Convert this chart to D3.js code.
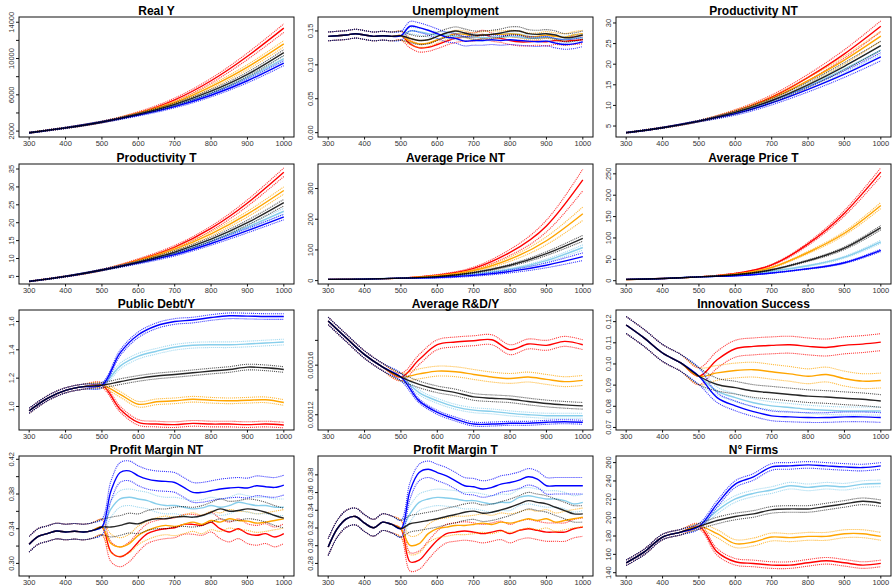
<!DOCTYPE html>
<html>
<head>
<meta charset="utf-8">
<script src="https://cdn.jsdelivr.net/npm/d3@7"></script>
<style>
  body { margin: 0; background: #fff; }
  svg text { font-family: "Liberation Sans", Arial, sans-serif; }
</style>
</head>
<body>
<script>
// scenario order: red, orange, black, lightblue, blue
var scenarioColors = ["#ff0000", "#ffa500", "#000000", "#87ceeb", "#0000ff"];
var drawOrder = [0, 1, 3, 4, 2];

// time grids
var t100 = [300, 400, 500, 600, 700, 800, 900, 1000];
var t50 = [300, 350, 400, 450, 500, 550, 600, 650, 700, 750, 800, 850, 900, 950, 1000];
var t25 = [300, 325, 350, 375, 400, 425, 450, 475, 500, 525, 550, 575, 600, 625, 650, 675, 700,
           725, 750, 775, 800, 825, 850, 875, 900, 925, 950, 975, 1000];
var xTicks = [300, 400, 500, 600, 700, 800, 900, 1000];

// Real Y
var realYBase = [1820, 2360, 3010];
var realYPost = [
  [4000, 5450, 7550, 10250, 13350],
  [3950, 5150, 6900, 9050, 11620],
  [3870, 4950, 6400, 8250, 10650],
  [3820, 4800, 6150, 7900, 10000],
  [3780, 4700, 5950, 7550, 9500]];
var realYBand = [0.035, 0.03, 0.03, 0.03, 0.03];

// Unemployment
var unempBase = [0.142, 0.143, 0.144, 0.146, 0.144, 0.142, 0.143, 0.142, 0.143];
var unempPost = [
  [0.131, 0.125, 0.126, 0.130, 0.135, 0.139, 0.141, 0.141, 0.145, 0.141, 0.139, 0.136, 0.134, 0.134, 0.135, 0.134, 0.136, 0.135, 0.136, 0.137],
  [0.135, 0.131, 0.132, 0.137, 0.142, 0.146, 0.145, 0.142, 0.144, 0.145, 0.145, 0.146, 0.145, 0.142, 0.142, 0.144, 0.142, 0.141, 0.144, 0.146],
  [0.139, 0.136, 0.137, 0.142, 0.147, 0.150, 0.147, 0.144, 0.144, 0.145, 0.147, 0.150, 0.150, 0.146, 0.145, 0.146, 0.144, 0.140, 0.141, 0.144],
  [0.150, 0.149, 0.146, 0.144, 0.144, 0.142, 0.141, 0.141, 0.140, 0.141, 0.141, 0.142, 0.141, 0.139, 0.140, 0.141, 0.139, 0.137, 0.139, 0.140],
  [0.157, 0.155, 0.151, 0.146, 0.141, 0.139, 0.135, 0.136, 0.136, 0.137, 0.136, 0.137, 0.136, 0.135, 0.134, 0.135, 0.132, 0.130, 0.131, 0.134]];
var unempBand = [0.006, 0.005, 0.006, 0.005, 0.007];

// Productivity NT
var prodNTBase = [3.39, 4.6, 6.2];
var prodNTPost = [
  [8.6, 12.0, 16.8, 22.5, 29.2],
  [8.5, 11.7, 16.0, 21.0, 26.8],
  [8.3, 11.2, 15.0, 19.5, 24.5],
  [8.2, 11.0, 14.6, 18.8, 23.4],
  [8.0, 10.6, 13.9, 17.6, 21.8]];
var prodNTBand = [0.045, 0.045, 0.045, 0.045, 0.045];

// Productivity T
var prodTBase = [3.6, 5.0, 6.8];
var prodTPost = [
  [9.6, 13.2, 18.4, 25.5, 34.1],
  [9.4, 12.6, 16.9, 22.4, 29.0],
  [9.0, 11.8, 15.4, 20.0, 25.6],
  [8.9, 11.4, 14.8, 18.8, 23.2],
  [8.8, 11.1, 14.2, 17.8, 21.6]];
var prodTBand = [0.035, 0.035, 0.035, 0.035, 0.035];

// Average Price NT
var priceNTBase = [4, 5, 8];
var priceNTPost = [
  [18, 40, 92, 178, 328],
  [16, 33, 70, 130, 218],
  [13, 26, 50, 88, 138],
  [11, 21, 37, 65, 108],
  [10, 17, 30, 50, 78]];
var priceNTBand = [0.107, 0.1, 0.07, 0.08, 0.16];

// Average Price T
var priceTBase = [3, 5, 9];
var priceTPost = [
  [17, 37, 86, 158, 254],
  [15.5, 31, 66, 111, 176],
  [14, 25.5, 47, 76, 124],
  [12.4, 22, 35, 55, 91],
  [11.6, 18, 28, 42, 71]];
var priceTBand = [0.04, 0.04, 0.04, 0.04, 0.04];

// Public Debt/Y
var debtBase = [0.970, 1.058, 1.114, 1.140, 1.150];
var debtPost = [
  [0.981, 0.888, 0.876, 0.872, 0.881, 0.876, 0.876, 0.872, 0.876, 0.869],
  [1.086, 1.016, 1.033, 1.040, 1.051, 1.044, 1.040, 1.044, 1.047, 1.028],
  [1.175, 1.198, 1.215, 1.226, 1.238, 1.250, 1.261, 1.278, 1.273, 1.261],
  [1.285, 1.355, 1.390, 1.418, 1.432, 1.436, 1.436, 1.441, 1.448, 1.455],
  [1.378, 1.506, 1.570, 1.600, 1.610, 1.628, 1.640, 1.638, 1.635, 1.635]];
var debtBand = [0.02, 0.02, 0.02, 0.02, 0.02];

// Average R&D/Y
var rdBase = [1.957e-4, 1.819e-4, 1.685e-4, 1.584e-4, 1.504e-4];
var rdPost = [
  [1.645e-4, 1.765e-4, 1.787e-4, 1.797e-4, 1.805e-4, 1.725e-4, 1.771e-4, 1.760e-4, 1.792e-4, 1.765e-4],
  [1.530e-4, 1.552e-4, 1.547e-4, 1.525e-4, 1.504e-4, 1.493e-4, 1.504e-4, 1.485e-4, 1.467e-4, 1.477e-4],
  [1.445e-4, 1.405e-4, 1.379e-4, 1.344e-4, 1.333e-4, 1.325e-4, 1.307e-4, 1.291e-4, 1.280e-4, 1.272e-4],
  [1.379e-4, 1.312e-4, 1.264e-4, 1.237e-4, 1.227e-4, 1.211e-4, 1.200e-4, 1.192e-4, 1.192e-4, 1.192e-4],
  [1.312e-4, 1.219e-4, 1.165e-4, 1.125e-4, 1.125e-4, 1.131e-4, 1.131e-4, 1.139e-4, 1.144e-4, 1.139e-4]];
var rdBand = [4e-6, 4e-6, 2.7e-6, 2e-6, 1.6e-6];

// Innovation Success
var innovBase = [0.1184, 0.1122, 0.1052, 0.1005, 0.0942];
var innovPost = [
  [0.1020, 0.1072, 0.1083, 0.1088, 0.1091, 0.1083, 0.1078, 0.1088, 0.1094, 0.1103],
  [0.0958, 0.0969, 0.0973, 0.0963, 0.0953, 0.0942, 0.0950, 0.0931, 0.0919, 0.0922],
  [0.0903, 0.0888, 0.0872, 0.0864, 0.0856, 0.0848, 0.0844, 0.0838, 0.0833, 0.0825],
  [0.0872, 0.0841, 0.0817, 0.0802, 0.0794, 0.0786, 0.0781, 0.0778, 0.0778, 0.0778],
  [0.0841, 0.0802, 0.0775, 0.0755, 0.0750, 0.0747, 0.0747, 0.0750, 0.0750, 0.0747]];
var innovBand = [0.004, 0.0035, 0.003, 0.0019, 0.0023];

// Profit Margin NT
var pmNTBase = [0.3221, 0.3312, 0.3343, 0.3373, 0.3362, 0.3370, 0.3362, 0.3381, 0.3419];
var pmNTPost = [
  [0.3133, 0.3076, 0.3133, 0.3248, 0.3343, 0.3381, 0.3400, 0.3411, 0.3450, 0.3450, 0.3438, 0.3476, 0.3400, 0.3362, 0.3400, 0.3343, 0.3324, 0.3343, 0.3305, 0.3343],
  [0.3229, 0.3190, 0.3229, 0.3324, 0.3381, 0.3419, 0.3438, 0.3427, 0.3450, 0.3476, 0.3450, 0.3495, 0.3476, 0.3514, 0.3495, 0.3488, 0.3465, 0.3476, 0.3495, 0.3514],
  [0.3419, 0.3438, 0.3465, 0.3457, 0.3495, 0.3514, 0.3514, 0.3533, 0.3541, 0.3533, 0.3552, 0.3590, 0.3629, 0.3602, 0.3610, 0.3629, 0.3617, 0.3590, 0.3552, 0.3522],
  [0.3629, 0.3743, 0.3762, 0.3743, 0.3724, 0.3686, 0.3667, 0.3667, 0.3648, 0.3629, 0.3640, 0.3667, 0.3648, 0.3667, 0.3705, 0.3686, 0.3667, 0.3667, 0.3648, 0.3648],
  [0.3838, 0.4048, 0.4067, 0.4010, 0.3971, 0.3952, 0.3945, 0.3933, 0.3876, 0.3819, 0.3819, 0.3838, 0.3857, 0.3869, 0.3876, 0.3869, 0.3895, 0.3884, 0.3876, 0.3903]];
var pmNTBand = [0.0114, 0.0107, 0.0114, 0.0095, 0.0114];

// Profit Margin T
var pmTBase = [0.2985, 0.3192, 0.3304, 0.3330, 0.3255, 0.3203, 0.3266, 0.3240, 0.3192];
var pmTPost = [
  [0.2819, 0.2837, 0.2949, 0.3061, 0.3136, 0.3154, 0.3166, 0.3154, 0.3136, 0.3154, 0.3173, 0.3136, 0.3173, 0.3192, 0.3173, 0.3154, 0.3154, 0.3154, 0.3192, 0.3210],
  [0.3005, 0.3024, 0.3136, 0.3192, 0.3210, 0.3229, 0.3229, 0.3240, 0.3255, 0.3240, 0.3266, 0.3255, 0.3278, 0.3304, 0.3285, 0.3304, 0.3266, 0.3285, 0.3304, 0.3322],
  [0.3248, 0.3266, 0.3285, 0.3304, 0.3330, 0.3352, 0.3378, 0.3390, 0.3367, 0.3378, 0.3404, 0.3434, 0.3472, 0.3509, 0.3490, 0.3472, 0.3434, 0.3397, 0.3360, 0.3360],
  [0.3360, 0.3490, 0.3528, 0.3546, 0.3539, 0.3528, 0.3509, 0.3509, 0.3490, 0.3472, 0.3490, 0.3490, 0.3546, 0.3565, 0.3546, 0.3528, 0.3528, 0.3509, 0.3472, 0.3490],
  [0.3621, 0.3826, 0.3863, 0.3826, 0.3789, 0.3733, 0.3677, 0.3666, 0.3640, 0.3658, 0.3696, 0.3714, 0.3740, 0.3778, 0.3751, 0.3677, 0.3677, 0.3677, 0.3677, 0.3677]];
var pmTBand = [0.0104, 0.0104, 0.0093, 0.0093, 0.0093];

// N° Firms
var firmsBase = [150.8, 162.7, 178.9, 184.3, 190.5];
var firmsPost = [
  [162.7, 151.9, 150.1, 148.3, 148.3, 150.8, 153.0, 150.8, 148.3, 150.1],
  [182.5, 171.7, 173.5, 178.9, 178.2, 179.6, 179.6, 182.5, 182.5, 179.6],
  [196.9, 201.3, 204.1, 208.5, 209.5, 209.5, 212.1, 215.0, 217.8, 215.7],
  [207.7, 220.4, 226.5, 230.1, 234.8, 233.0, 234.8, 233.7, 236.6, 237.3],
  [215.0, 236.6, 244.5, 255.3, 256.4, 257.5, 256.4, 255.3, 254.6, 256.4]];
var firmsBand = [3.6, 4.3, 3.6, 3.6, 3.6];

// panel table
var panels = [
  {title: "Real Y", t: t100, base: realYBase, post: realYPost, band: realYBand, baseBand: 0.03, rel: true,
   domain: [1351, 14577], ticks: [2000, 4000, 6000, 8000, 10000, 12000, 14000],
   labels: ["2000", "", "6000", "", "10000", "", "14000"]},
  {title: "Unemployment", t: t25, base: unempBase, post: unempPost, band: unempBand, baseBand: 0.0065, rel: false,
   domain: [-0.0064, 0.1706], ticks: [0, 0.05, 0.10, 0.15], labels: ["0.00", "0.05", "0.10", "0.15"]},
  {title: "Productivity NT", t: t100, base: prodNTBase, post: prodNTPost, band: prodNTBand, baseBand: 0.03, rel: true,
   domain: [2.34, 31.45], ticks: [5, 10, 15, 20, 25, 30], labels: ["5", "10", "15", "20", "25", "30"]},
  {title: "Productivity T", t: t100, base: prodTBase, post: prodTPost, band: prodTBand, baseBand: 0.03, rel: true,
   domain: [2.88, 36.4], ticks: [5, 10, 15, 20, 25, 30, 35], labels: ["5", "10", "15", "20", "25", "30", "35"]},
  {title: "Average Price NT", t: t100, base: priceNTBase, post: priceNTPost, band: priceNTBand, baseBand: 0.05, rel: true,
   domain: [-11, 380], ticks: [0, 100, 200, 300], labels: ["0", "100", "200", "300"]},
  {title: "Average Price T", t: t100, base: priceTBase, post: priceTPost, band: priceTBand, baseBand: 0.04, rel: true,
   domain: [-7.7, 273], ticks: [0, 50, 100, 150, 200, 250], labels: ["0", "50", "100", "150", "200", "250"]},
  {title: "Public Debt/Y", t: t50, base: debtBase, post: debtPost, band: debtBand, baseBand: 0.018, rel: false,
   domain: [0.834, 1.681], ticks: [1.0, 1.2, 1.4, 1.6], labels: ["1.0", "1.2", "1.4", "1.6"]},
  {title: "Average R&D/Y", t: t50, base: rdBase, post: rdPost, band: rdBand, baseBand: 3e-6, rel: false,
   domain: [1.077e-4, 2.045e-4], ticks: [1.2e-4, 1.4e-4, 1.6e-4, 1.8e-4], labels: ["0.00012", "", "0.00016", ""]},
  {title: "Innovation Success", t: t50, base: innovBase, post: innovPost, band: innovBand, baseBand: 0.004, rel: false,
   domain: [0.0688, 0.1255], ticks: [0.07, 0.08, 0.09, 0.10, 0.11, 0.12], labels: ["0.07", "0.08", "0.09", "0.10", "0.11", "0.12"]},
  {title: "Profit Margin NT", t: t25, base: pmNTBase, post: pmNTPost, band: pmNTBand, baseBand: 0.009, rel: false,
   domain: [0.2855, 0.4238], ticks: [0.30, 0.32, 0.34, 0.36, 0.38, 0.40, 0.42], labels: ["0.30", "", "0.34", "", "0.38", "", "0.42"]},
  {title: "Profit Margin T", t: t25, base: pmTBase, post: pmTPost, band: pmTBand, baseBand: 0.0095, rel: false,
   domain: [0.2658, 0.4013], ticks: [0.28, 0.30, 0.32, 0.34, 0.36, 0.38], labels: ["0.28", "0.30", "0.32", "0.34", "0.36", "0.38"]},
  {title: "N\u00b0 Firms", t: t50, base: firmsBase, post: firmsPost, band: firmsBand, baseBand: 3, rel: false,
   domain: [136.4, 267.2], ticks: [140, 160, 180, 200, 220, 240, 260], labels: ["140", "160", "180", "200", "220", "240", "260"]}
];

var colX = [19, 318, 616], rowY = [17, 164, 310, 456];
var boxW = 275, boxH = 120;

var svg = d3.select("body").append("svg")
  .attr("width", 892)
  .attr("height", 587);

panels.forEach(function(p, k) {
  var g = svg.append("g")
    .attr("transform", "translate(" + colX[k % 3] + "," + rowY[Math.floor(k / 3)] + ")");

  var x = d3.scaleLinear().domain([272, 1028]).range([0, boxW]);
  var y = d3.scaleLinear().domain(p.domain).range([boxH, 0]);

  g.append("clipPath").attr("id", "clip" + k)
    .append("rect").attr("width", boxW).attr("height", boxH);

  var plot = g.append("g").attr("clip-path", "url(#clip" + k + ")");

  // sparse smooth panels get a natural spline, wiggly ones catmull-rom
  var line = d3.line()
    .x(function(d) { return x(d.t); })
    .y(function(d) { return y(d.v); })
    .curve(p.t === t100 ? d3.curveNatural : d3.curveCatmullRom);

  //building each scenario: shared base + its own path after 500
  drawOrder.forEach(function(i) {
    var vals = p.base.concat(p.post[i]);
    var pts = vals.map(function(v, j) {
      var w = j < p.base.length ? p.baseBand : p.band[i];
      var h = p.rel ? v * w : w;
      return {t: p.t[j], v: v, h: h};
    });
    var up = pts.map(function(d) { return {t: d.t, v: d.v + d.h}; });
    var lo = pts.map(function(d) { return {t: d.t, v: d.v - d.h}; });
    var op = i === 2 ? 0.85 : 1;

    [up, lo].forEach(function(b) {
      plot.append("path")
        .attr("d", line(b))
        .attr("fill", "none")
        .attr("stroke", scenarioColors[i])
        .attr("stroke-width", 1.1)
        .attr("stroke-dasharray", "1.1,0.9")
        .attr("opacity", 0.75 * op);
    });

    plot.append("path")
      .attr("d", line(pts))
      .attr("fill", "none")
      .attr("stroke", scenarioColors[i])
      .attr("stroke-width", 1.4)
      .attr("opacity", op);
  });

  //box
  g.append("rect")
    .attr("width", boxW)
    .attr("height", boxH)
    .attr("fill", "none")
    .attr("stroke", "#111")
    .attr("stroke-width", 1);

  //x axis
  g.selectAll("line.xt").data(xTicks).enter().append("line")
    .attr("x1", function(d) { return x(d); })
    .attr("x2", function(d) { return x(d); })
    .attr("y1", boxH).attr("y2", boxH + 2.5)
    .attr("stroke", "#111");
  g.selectAll("text.xl").data(xTicks).enter().append("text")
    .attr("x", function(d) { return x(d); })
    .attr("y", boxH + 8.5)
    .attr("text-anchor", "middle")
    .style("font-size", "7.5px")
    .attr("fill", "#333")
    .text(function(d) { return d; });

  //y axis, labels rotated like R
  g.selectAll("line.yt").data(p.ticks).enter().append("line")
    .attr("x1", -3).attr("x2", 0)
    .attr("y1", function(d) { return y(d); })
    .attr("y2", function(d) { return y(d); })
    .attr("stroke", "#111");
  g.selectAll("text.yl").data(p.ticks).enter().append("text")
    .attr("transform", function(d) { return "translate(-5," + y(d) + ") rotate(-90)"; })
    .attr("text-anchor", "middle")
    .style("font-size", "7.5px")
    .attr("fill", "#333")
    .text(function(d, i) { return p.labels[i]; });

  g.append("text")
    .attr("x", boxW / 2)
    .attr("y", -2)
    .attr("text-anchor", "middle")
    .style("font-size", "12px")
    .style("font-weight", "bold")
    .text(p.title);
});
</script>
</body>
</html>
